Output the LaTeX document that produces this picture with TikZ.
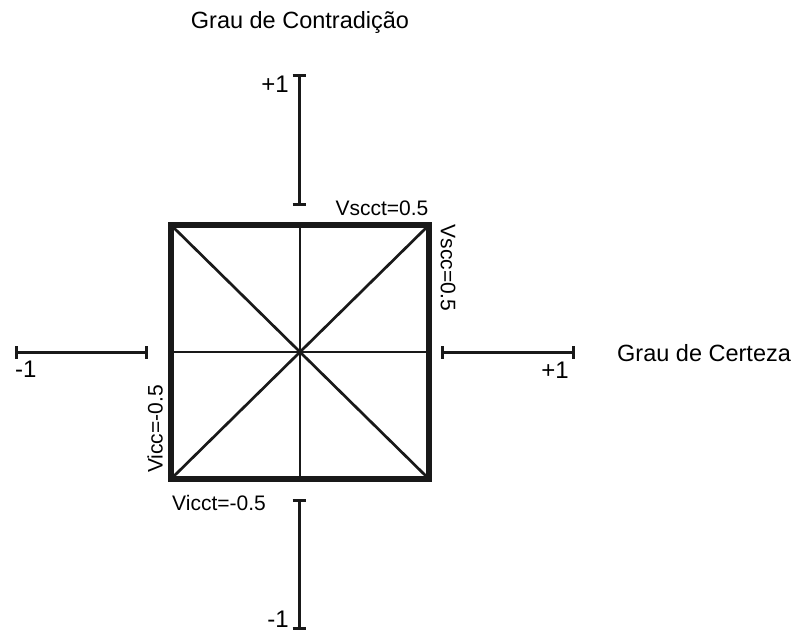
\documentclass[tikz,border=0pt]{standalone}
\usepackage{fontspec}
\setmainfont{Liberation Sans}
\begin{document}
\begin{tikzpicture}[x=1pt,y=-1pt,
  axis/.style={line width=3pt,black!90},
  tick/.style={line width=3pt,black!90},
  box/.style={line width=6.5pt,black!90},
  inner/.style={line width=2.7pt,black!90},
  lbl/.style={font=\fontsize{21}{23}\selectfont,inner sep=0pt},
  num/.style={font=\fontsize{24}{26}\selectfont,inner sep=0pt},
  ttl/.style={font=\fontsize{23.5}{26}\selectfont,inner sep=0pt}]
\useasboundingbox (0,0) rectangle (809,632);
% square
\coordinate (tl) at (171,225);
\coordinate (tr) at (429,225);
\coordinate (bl) at (171,479);
\coordinate (br) at (429,479);
\coordinate (tm) at (300,225);
\coordinate (bm) at (300,479);
\coordinate (lm) at (171,352);
\coordinate (rm) at (429,352);
\draw[inner] (tm) -- (bm);
\draw[inner] (lm) -- (rm);
\draw[inner] (tl) -- (br);
\draw[inner] (tr) -- (bl);
\draw[box] (tl) -- (tr) -- (br) -- (bl) -- cycle;
% axes
\coordinate (t1) at (299,75);
\coordinate (t2) at (299,204);
\coordinate (b1) at (299,500);
\coordinate (b2) at (299,628);
\coordinate (l1) at (16,352);
\coordinate (l2) at (146,352);
\coordinate (r1) at (442,352);
\coordinate (r2) at (573,352);
\draw[axis] (t1) -- (t2);
\draw[tick] ([xshift=-6.5]t1) -- ([xshift=6.5]t1);
\draw[tick] ([xshift=-6.5]t2) -- ([xshift=6.5]t2);
\draw[axis] (b1) -- (b2);
\draw[tick] ([xshift=-6.5]b1) -- ([xshift=6.5]b1);
\draw[tick] ([xshift=-6.5]b2) -- ([xshift=6.5]b2);
\draw[axis] (l1) -- (l2);
\draw[tick] ([yshift=-6.5]l1) -- ([yshift=6.5]l1);
\draw[tick] ([yshift=-6.5]l2) -- ([yshift=6.5]l2);
\draw[axis] (r1) -- (r2);
\draw[tick] ([yshift=-6.5]r1) -- ([yshift=6.5]r1);
\draw[tick] ([yshift=-6.5]r2) -- ([yshift=6.5]r2);
% labels
\node[ttl] (gc) at (300,22) {Grau de Contradição};
\node[ttl,anchor=west] (gce) at (617,353) {Grau de Certeza};
\node[num,anchor=east] (p1t) at (289,84) {+1};
\node[num,anchor=east] (m1b) at (289,619) {-1};
\node[num,anchor=west] (m1l) at (15,369) {-1};
\node[num,anchor=east] (p1r) at (569,370) {+1};
\node[lbl] (vscct) at (382,208) {Vscct=0.5};
\node[lbl] (vicct) at (219,503) {Vicct=-0.5};
\node[lbl,rotate=-90] (vscc) at (448,268) {Vscc=0.5};
\node[lbl,rotate=90] (vicc) at (155,429) {Vicc=-0.5};
\end{tikzpicture}
\end{document}
